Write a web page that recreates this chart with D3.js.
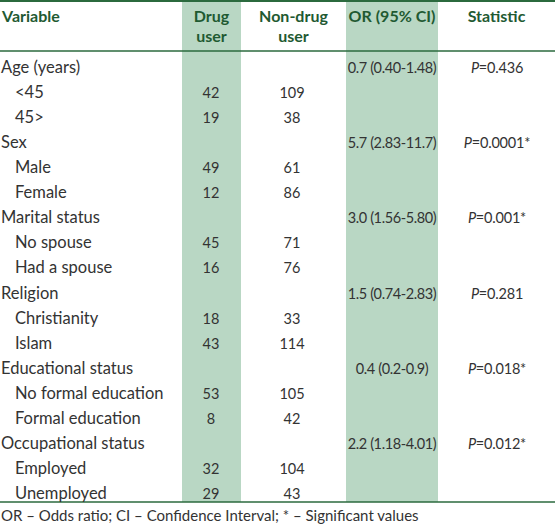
<!DOCTYPE html>
<html><head><meta charset="utf-8">
<script src="https://cdn.jsdelivr.net/npm/d3@7"></script>
<style>body{margin:0;background:#fff}</style>
</head><body><div id="chart"></div>
<script>
// table data
const variables = ["Age (years)", "<45", "45>", "Sex", "Male", "Female", "Marital status", "No spouse", "Had a spouse",
  "Religion", "Christianity", "Islam", "Educational status", "No formal education", "Formal education",
  "Occupational status", "Employed", "Unemployed"];
const drugUser = ["", 42, 19, "", 49, 12, "", 45, 16, "", 18, 43, "", 53, 8, "", 32, 29];
const nonDrugUser = ["", 109, 38, "", 61, 86, "", 71, 76, "", 33, 114, "", 105, 42, "", 104, 43];
const orCI = ["0.7 (0.40-1.48)", "", "", "5.7 (2.83-11.7)", "", "", "3.0 (1.56-5.80)", "", "", "1.5 (0.74-2.83)", "", "",
  "0.4 (0.2-0.9)", "", "", "2.2 (1.18-4.01)", "", ""];
const pValues = ["0.436", "", "", "0.0001*", "", "", "0.001*", "", "", "0.281", "", "", "0.018*", "", "", "0.012*", "", ""];
const headers = [["Variable"], ["Drug", "user"], ["Non-drug", "user"], ["OR (95% CI)"], ["Statistic"]];
const footnote = "OR – Odds ratio; CI – Confidence Interval; * – Significant values";

const width = 555, height = 527;
const font = "Lato, 'Open Sans', sans-serif";
const textCol = "#333", headCol = "#1f5a32", shade = "#b9d7c4", lineCol = "#2b6a3e";

const svg = d3.select("#chart").append("svg").attr("width", width).attr("height", height);

const cols = [{x0: 0, x1: 182}, {x0: 182, x1: 241}, {x0: 241, x1: 346}, {x0: 346, x1: 438}, {x0: 438, x1: 555}];
const y = d3.scaleBand().domain(d3.range(variables.length)).range([55, 507]);

// shaded columns
[1, 3].forEach(c => svg.append("rect").attr("x", cols[c].x0).attr("y", 2)
  .attr("width", cols[c].x1 - cols[c].x0).attr("height", 500).attr("fill", shade));

// rules
[[1, 2], [51, 1.5], [502, 1.5]].forEach(([yy, w]) => svg.append("line").attr("x1", 0).attr("x2", width)
  .attr("y1", yy).attr("y2", yy).attr("stroke", lineCol).attr("stroke-width", w));

// headers
headers.forEach((lines, i) => {
  const t = svg.append("text").attr("font-family", font).attr("font-size", 16).attr("font-weight", "bold")
    .attr("fill", headCol)
    .attr("text-anchor", i === 0 ? "start" : "middle")
    .attr("x", i === 0 ? 2 : (cols[i].x0 + cols[i].x1) / 2).attr("y", 22);
  lines.forEach((l, j) => t.append("tspan").attr("x", t.attr("x")).attr("dy", j ? 20 : 0).text(l));
});

const rows = svg.selectAll("g.row").data(variables).join("g").attr("class", "row")
  .attr("transform", (d, i) => `translate(0,${y(i) + y.bandwidth() / 2 + 5})`)
  .attr("font-family", font).attr("font-size", 16.5).attr("fill", textCol);

rows.append("text").attr("x", (d, i) => drugUser[i] === "" ? 1 : 15).text(d => d);
const num = rows.append("g").attr("font-size", 14.5);
num.append("text").attr("x", 211).attr("text-anchor", "middle").text((d, i) => drugUser[i]);
num.append("text").attr("x", 292).attr("text-anchor", "middle").text((d, i) => nonDrugUser[i]);
num.append("text").attr("x", 392).attr("text-anchor", "middle").attr("letter-spacing", -0.4).text((d, i) => orCI[i]);
num.append("text").attr("x", 497).attr("text-anchor", "middle").attr("letter-spacing", -0.2).each(function(d, i) {
  if (!pValues[i]) return;
  d3.select(this).append("tspan").attr("font-style", "italic").text("P");
  d3.select(this).append("tspan").text("=" + pValues[i]);
});

svg.append("text").attr("x", 1).attr("y", 521).attr("font-family", font).attr("font-size", 15)
  .attr("fill", textCol).text(footnote);
</script></body></html>
